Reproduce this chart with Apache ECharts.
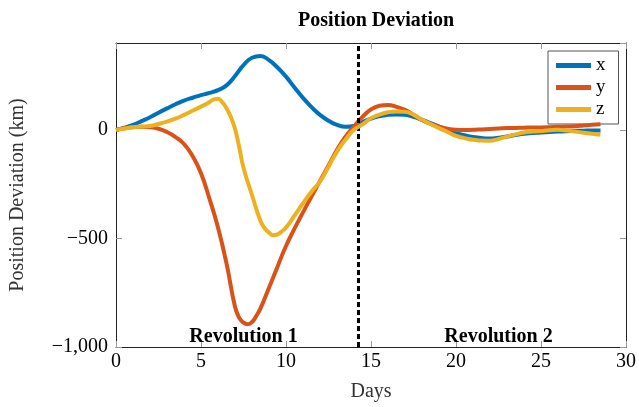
<!DOCTYPE html>
<html>
<head>
<meta charset="utf-8">
<script src="https://cdn.jsdelivr.net/npm/echarts@6/dist/echarts.min.js"></script>
<style>
html,body{margin:0;padding:0;background:#fff;}
#chart{width:639px;height:407px;}
</style>
</head>
<body>
<div id="chart"></div>
<script>
// ---- data ----
const xDays = [0,0.5,1,1.5,2,2.5,3,3.5,4,4.5,5,5.5,6,6.5,7,7.5,8,8.5,9,9.5,10,10.5,11,11.5,12,12.5,13,13.5,14,14.5,15,15.5,16,16.5,17,17.5,18,18.5,19,19.5,20,20.5,21,21.5,22,22.5,23,23.5,24,24.5,25,25.5,26,26.5,27,27.5,28,28.5];
const xVals = [0,10,23,40,58,79,99,118,135,148,160,170,183,205,248,298,332,340,321,287,245,195,147,105,69,42,23,14,18,35,52,63,69,71,69,60,46,31,15,0,-15,-25,-33,-38,-40,-36,-31,-24,-18,-15,-12,-10,-8,-6,-5,-4,-3,-3];

const yDays = [0,0.5,1,1.5,2,2.5,3,3.5,4,4.5,5,5.5,6,6.5,7,7.25,7.5,7.75,8,8.25,8.5,9,9.5,10,10.5,11,11.5,12,12.5,13,13.5,14,14.5,15,15.5,16,16.5,17,17.5,18,18.5,19,19.5,20,20.5,21,21.5,22,22.5,23,23.5,24,24.5,25,25.5,26,26.5,27,27.5,28,28.5];
const yVals = [0,7,12,14,12,5,-10,-33,-65,-120,-200,-318,-450,-615,-815,-866,-888,-895,-885,-857,-822,-727,-630,-535,-455,-380,-307,-235,-164,-92,-32,15,60,94,111,115,106,92,70,46,28,15,5,0,-1,0,2,4,6,8,9,10,11,11,12,14,15,17,20,23,26];

const zDays = [0,0.5,1,1.5,2,2.5,3,3.5,4,4.5,5,5.5,5.75,6,6.25,6.5,6.75,7,7.25,7.5,8,8.5,8.75,9,9.25,9.5,9.75,10,10.5,11,11.5,12,12.5,13,13.5,14,14.5,15,15.5,16,16.5,17,17.5,18,18.5,19,19.5,20,20.5,21,21.5,22,22.5,23,23.5,24,24.5,25,25.5,26,26.5,27,27.5,28,28.5];
const zVals = [0,6,12,15,18,27,38,52,69,88,107,128,140,143,128,100,60,5,-80,-175,-300,-420,-453,-473,-485,-481,-468,-450,-395,-338,-285,-238,-170,-100,-45,0,25,54,70,81,85,83,70,46,27,8,-10,-28,-38,-46,-49,-50,-42,-31,-21,-12,-8,-5,-2,0,-3,-8,-13,-18,-23];

const seriesNames = ['x','y','z'];
const seriesColors = ['#0072BD','#D95319','#EDB120'];
const xTicks = [0,5,10,15,20,25,30];
const yTicks = [-1000,-500,0];
const dividerDay = 14.27;
const revLabels = [{text:'Revolution 1', day:7.5, val:-955},{text:'Revolution 2', day:22.5, val:-955}];

const zip = (a,b)=>a.map((d,i)=>[d,b[i]]);
const serif = 'Liberation Serif, Times New Roman, serif';
const fmtY = v => v < 0 ? '\u2212' + Math.abs(v).toLocaleString('en-US') : String(v);

const chart = echarts.init(document.getElementById('chart'));
const axisLine = {show:true, onZero:false, lineStyle:{color:'#222', width:1}};
const tick = {show:true, inside:true, length:6, lineStyle:{color:'#999'}};

const mkSeries = (name, data, color, i) => ({
  name, type:'line', data, smooth:0.5, showSymbol:false, symbol:'none',
  lineStyle:{width:4, color}, itemStyle:{color}, z: 3+i
});
const series = [
  mkSeries('x', zip(xDays,xVals), seriesColors[0], 0),
  mkSeries('y', zip(yDays,yVals), seriesColors[1], 1),
  mkSeries('z', zip(zDays,zVals), seriesColors[2], 2)
];
series[0].markLine = {
  silent:true, symbol:'none', label:{show:false},
  lineStyle:{color:'#000', width:3, type:[5,3]},
  data:[{xAxis: dividerDay}]
};
series[0].markPoint = {
  silent:true, symbol:'circle', symbolSize:0,
  label:{show:true, position:'inside', fontFamily:serif, fontWeight:'bold', fontSize:20, color:'#000',
    formatter: p => p.name},
  data: revLabels.map(r => ({name:r.text, coord:[r.day, r.val]}))
};

chart.setOption({
  animation:false,
  title:{text:'Position Deviation', left:371, top:6, textAlign:'center',
    textStyle:{fontFamily:serif, fontWeight:'bold', fontSize:20, color:'#000'}},
  legend:{
    data:seriesNames, orient:'vertical', left:548, top:51,
    icon:'rect', itemWidth:35, itemHeight:5, itemGap:3,
    padding:[5,13,5,8], borderColor:'#555', borderWidth:1, backgroundColor:'#fff',
    textStyle:{fontFamily:serif, fontSize:19, color:'#000', lineHeight:16}
  },
  grid:{left:115, right:11, top:43, bottom:59},
  xAxis:[{
    type:'value', min:xTicks[0], max:xTicks[xTicks.length-1], interval:5,
    name:'Days', nameLocation:'middle', nameGap:35,
    nameTextStyle:{fontFamily:serif, fontSize:20, color:'#333'},
    axisLine, axisTick:tick, splitLine:{show:false},
    axisLabel:{fontFamily:serif, fontSize:20, color:'#000', margin:5}
  },{
    type:'value', position:'top', min:xTicks[0], max:xTicks[xTicks.length-1], interval:5,
    axisLine, axisTick:tick, splitLine:{show:false}, axisLabel:{show:false}
  }],
  yAxis:[{
    type:'value', min:-1000, max:400, interval:500,
    name:'Position Deviation (km)', nameLocation:'middle', nameGap:88,
    nameTextStyle:{fontFamily:serif, fontSize:20, color:'#333'},
    axisLine, axisTick:tick, splitLine:{show:false},
    axisLabel:{fontFamily:serif, fontSize:20, color:'#000', margin:8, showMaxLabel:false,
      formatter: v => yTicks.includes(v) ? fmtY(v) : ''}
  },{
    type:'value', position:'right', min:-1000, max:400, interval:500,
    axisLine, axisTick:tick, splitLine:{show:false}, axisLabel:{show:false}
  }],
  series
});
</script>
</body>
</html>
